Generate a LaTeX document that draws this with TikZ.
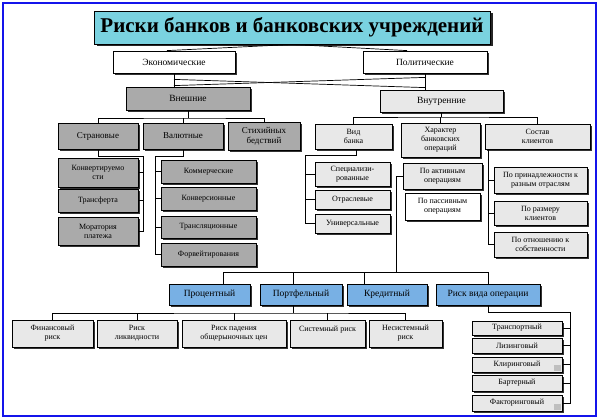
\documentclass[tikz,border=0pt]{standalone}
\usepackage{fontspec}
\setmainfont{Liberation Serif}
\usetikzlibrary{shadows,calc}

\definecolor{dgray}{RGB}{170,170,170}
\definecolor{lgray}{RGB}{232,232,232}
\definecolor{lblue}{RGB}{120,176,228}
\definecolor{tcyan}{RGB}{122,210,224}
\definecolor{fblue}{RGB}{20,20,235}

\begin{document}
\begin{tikzpicture}[x=1pt,y=-1pt,
    sz/.style 2 args={minimum width=#1pt, minimum height=#2pt},
    box/.style={draw=black, line width=0.8pt, align=center, inner sep=1pt,
      font=\fontsize{8}{9}\selectfont,
      drop shadow={shadow xshift=1.8pt, shadow yshift=-1.8pt, fill=black!80, opacity=1}},
    big/.style={font=\fontsize{9.5}{11}\selectfont},
    mid/.style={font=\fontsize{9}{10}\selectfont},
    wbox/.style={box, fill=white},
    dbox/.style={box, fill=dgray},
    lbox/.style={box, fill=lgray},
    bbox/.style={box, fill=lblue},
    link/.style={line width=0.7pt}]
    \useasboundingbox (0,0) rectangle (600,420);
    \draw[fblue, line width=2.5pt] (3,3) rectangle (596,416);

    % title and first levels
    \node[draw=black, line width=0.9pt, fill=tcyan, sz={396}{33},
      font=\bfseries\fontsize{21}{22}\selectfont,
      drop shadow={shadow xshift=2.5pt, shadow yshift=-2.5pt, fill=black!85, opacity=1}]
      (title) at (292,27.5) {Риски банков и банковских учреждений};
    \node[wbox, big, sz={122}{22}] (econ) at (174,62) {Экономические};
    \node[wbox, big, sz={124}{22}] (polit) at (425,62) {Политические};
    \node[dbox, big, sz={124}{23}] (vnesh) at (188,98.5) {Внешние};
    \node[lbox, big, sz={123}{22}] (vnutr) at (441.5,101) {Внутренние};

    % external risks
    \node[dbox, mid, sz={80}{26}] (stran) at (98,136) {Страновые};
    \node[dbox, mid, sz={80}{26}] (valut) at (183,136) {Валютные};
    \node[dbox, mid, sz={72}{28}] (stikh) at (264,136) {Стихийных\\бедствий};
    \node[dbox, sz={80}{29}] (konv) at (98,172.5) {Конвертируемо\\сти};
    \node[dbox, sz={80}{23}] (transf) at (98,200.5) {Трансферта};
    \node[dbox, sz={80}{28}] (morat) at (98,231) {Моратория\\платежа};
    \node[dbox, sz={95}{23}] (komm) at (208.5,171.5) {Коммерческие};
    \node[dbox, sz={95}{23}] (konvers) at (208.5,198.5) {Конверсионные};
    \node[dbox, sz={95}{22}] (transl) at (208.5,227) {Трансляционные};
    \node[dbox, sz={95}{23}] (forv) at (208.5,254.5) {Форвейтирования};

    % internal risks
    \node[lbox, sz={77}{25}] (vid) at (353.5,136.5) {Вид\\банка};
    \node[lbox, sz={79}{34}] (khar) at (440.5,140) {Характер\\банковских\\операций};
    \node[lbox, sz={105}{25}] (sostav) at (537.5,136.5) {Состав\\клиентов};
    \node[lbox, sz={75}{24}] (spec) at (352.5,174) {Специализи-\\рованные};
    \node[lbox, sz={75}{19}] (otrasl) at (352.5,199.5) {Отраслевые};
    \node[lbox, sz={75}{19}] (univ) at (352.5,223.5) {Универсальные};
    \node[lbox, sz={79}{26}] (aktiv) at (442.5,176) {По активным\\операциям};
    \node[wbox, sz={75}{27}] (passiv) at (442.5,206.5) {По пассивным\\операциям};
    \node[lbox, sz={93}{26}] (prinad) at (540.5,180) {По принадлежности к\\разным отраслям};
    \node[lbox, sz={93}{24}] (razmer) at (540.5,213) {По размеру\\клиентов};
    \node[lbox, sz={93}{25}] (otnosh) at (540.5,244.5) {По отношению к\\собственности};

    % operation risks
    \node[bbox, big, sz={81}{21}] (proc) at (209.5,294.5) {Процентный};
    \node[bbox, big, sz={82}{21}] (portf) at (301,294.5) {Портфельный};
    \node[bbox, big, sz={80}{21}] (kred) at (387,294.5) {Кредитный};
    \node[bbox, big, sz={104}{21}] (riskvid) at (488,294.5) {Риск вида операции};
    \node[lbox, sz={81}{27}] (fin) at (52.5,333.5) {Финансовый\\риск};
    \node[lbox, sz={80}{27}] (likv) at (137,333.5) {Риск\\ликвидности};
    \node[lbox, sz={104}{27}] (pad) at (234,333.5) {Риск падения\\общерыночных цен};
    \node[lbox, sz={75}{27}] (sist) at (327.5,333.5) {Системный риск\\\mbox{}};
    \node[lbox, sz={73}{27}] (nesist) at (405.5,333.5) {Несистемный\\риск};
    \node[lbox, sz={90}{14}] (transp) at (517,328) {Транспортный};
    \node[lbox, sz={90}{15}] (lizing) at (517,345.5) {Лизинговый};
    \node[lbox, sz={90}{15}] (kliring) at (517,364.5) {Клиринговый};
    \node[lbox, sz={90}{16}] (barter) at (517,383) {Бартерный};
    \node[lbox, sz={90}{16}] (faktor) at (517,403) {Факторинговый};
    \fill[black!25] ($(kliring.south east)+(-8,-1)$) rectangle ++(7,-6);
    \fill[black!25] ($(faktor.south east)+(-8,-1)$) rectangle ++(7,-6);

    % top links
    \draw[link] ([xshift=-7pt]econ.north) -- (title.south) -- ([xshift=-18pt]polit.north);
    \draw[link] (econ.south) -- (econ.south |- vnesh.north);
    \draw[link] (polit.south) -- (polit.south |- vnutr.north);
    \draw[link] ($(econ.south)+(0,6)$) -- ($(polit.south |- vnutr.north)+(0,-2)$);
    \draw[link] ($(polit.south)+(0,4)$) -- ($(econ.south |- vnesh.north)+(0,-1)$);

    % external links
    \coordinate (busA) at (188,118);
    \draw[link] (vnesh.south) -- (busA);
    \draw[link] (stran.north) |- (busA) -| (stikh.north);
    \draw[link] (valut.north) -- (valut.north |- busA);
    \coordinate (sA) at (143,156);
    \draw[link] (stran.south) |- (sA) -- (sA |- morat.east) -- (morat.east);
    \draw[link] (konv.east) -- (konv.east -| sA);
    \draw[link] (transf.east) -- (transf.east -| sA);
    \coordinate (vA) at (155,156);
    \draw[link] (valut.south) |- (vA) -- (vA |- forv.west) -- (forv.west);
    \draw[link] (komm.west) -- (komm.west -| vA);
    \draw[link] (konvers.west) -- (konvers.west -| vA);
    \draw[link] (transl.west) -- (transl.west -| vA);

    % internal links
    \coordinate (busB) at (441.5,117);
    \draw[link] (vnutr.south) -- (busB);
    \draw[link] (vid.north) |- (busB) -| (sostav.north);
    \draw[link] (khar.north) -- (khar.north |- busB);
    \coordinate (dA) at (305,155);
    \draw[link] ([xshift=3pt]vid.south) |- (dA) -- (dA |- univ.west) -- (univ.west);
    \draw[link] (spec.west) -- (spec.west -| dA);
    \draw[link] (otrasl.west) -- (otrasl.west -| dA);
    \coordinate (cA) at (488,156);
    \draw[link] (sostav.south -| cA) -- (cA |- otnosh.west) -- (otnosh.west);
    \draw[link] (prinad.west) -- (prinad.west -| cA);
    \draw[link] (razmer.west) -- (razmer.west -| cA);

    % operation links
    \coordinate (p1) at (223,272);
    \coordinate (p2) at (293,272);
    \coordinate (p3) at (364,272);
    \coordinate (p4) at (488,272);
    \draw[link] (aktiv.west) -- ++(-6,0) |- (p1);
    \draw[link] (p1) -- (p4);
    \draw[link] (p1) -- (p1 |- proc.north);
    \draw[link] (p2) -- (p2 |- portf.north);
    \draw[link] (p3) -- (p3 |- kred.north);
    \draw[link] (p4) -- (p4 |- riskvid.north);
    \coordinate (qA) at (293,313);
    \draw[link] (portf.south -| qA) -- (qA);
    \draw[link] (fin.north) |- (qA) -| (nesist.north);
    \draw[link] (likv.north) -- (likv.north |- qA);
    \draw[link] (pad.north) -- (pad.north |- qA);
    \draw[link] (sist.north) -- (sist.north |- qA);
    \coordinate (rA) at (570,312);
    \draw[link] (riskvid.south) |- (rA) -- (rA |- faktor.east) -- (faktor.east);
    \draw[link] (transp.east) -- (transp.east -| rA);
    \draw[link] (lizing.east) -- (lizing.east -| rA);
    \draw[link] (kliring.east) -- (kliring.east -| rA);
    \draw[link] (barter.east) -- (barter.east -| rA);
\end{tikzpicture}
\end{document}
